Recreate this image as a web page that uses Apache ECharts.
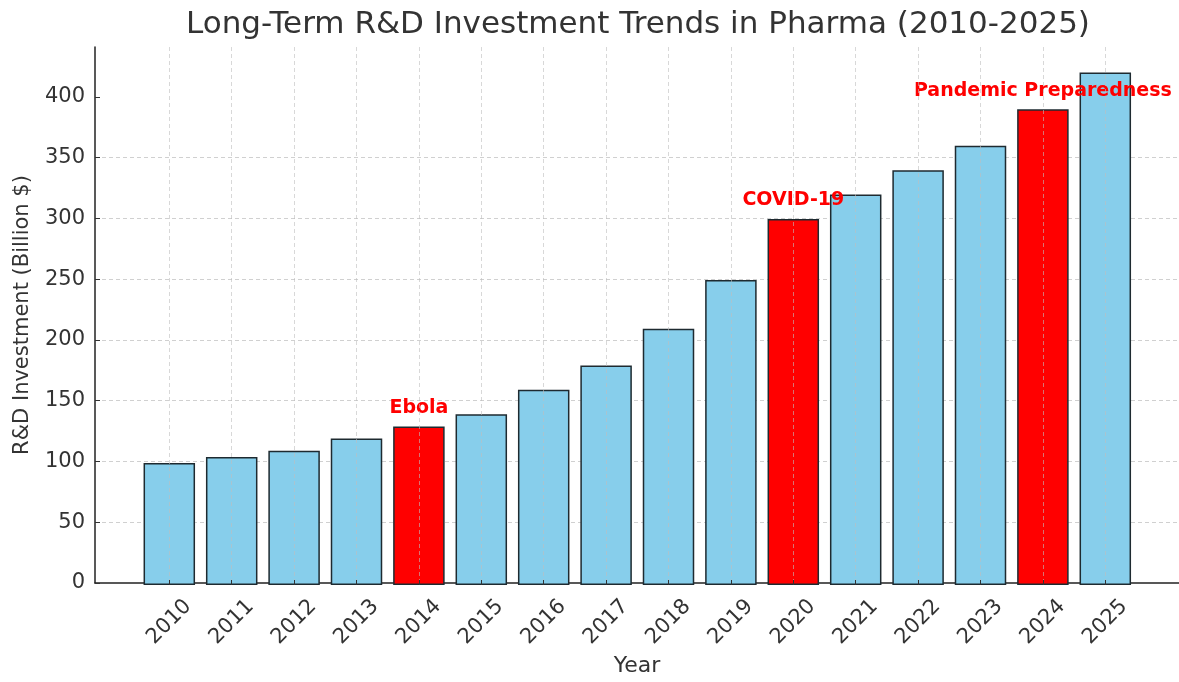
<!DOCTYPE html>
<html>
<head>
<meta charset="utf-8">
<script src="https://cdn.jsdelivr.net/npm/echarts@6/dist/echarts.min.js"></script>
<style>html,body{margin:0;padding:0;background:#fff}#c{width:1179px;height:682px}</style>
</head>
<body>
<div id="c"></div>
<script>
const years = ['2010','2011','2012','2013','2014','2015','2016','2017','2018','2019','2020','2021','2022','2023','2024','2025'];
const investment = [100,105,110,120,130,140,160,180,210,250,300,320,340,360,390,420];
const eventYears = ['2014','2020','2024'];
const eventLabels = ['Ebola','COVID-19','Pandemic Preparedness'];
const yTicks = [0,50,100,150,200,250,300,350,400];

const FONT = 'DejaVu Sans';
const chart = echarts.init(document.getElementById('c'), null, {renderer:'canvas'});
const yMax = 441;

const barData = investment.map((v, i) => {
  const ev = eventYears.indexOf(years[i]);
  return {
    value: v,
    itemStyle: { color: ev >= 0 ? '#ff0000' : '#87ceeb' },
    label: ev >= 0 ? { show: true, formatter: eventLabels[ev] } : { show: false }
  };
});

chart.setOption({
  animation: false,
  title: {
    text: 'Long-Term R&D Investment Trends in Pharma (2010-2025)',
    left: 633, top: 4, textAlign: 'center',
    textStyle: { fontFamily: FONT, fontSize: 31, fontWeight: 'normal', color: '#333' }
  },
  grid: [
    { left: 95, right: 0, top: 47, bottom: 97 },
    { left: 138.1, right: 42.5, top: 47, bottom: 97 }
  ],
  xAxis: [
    {
      type: 'value', gridIndex: 0, min: -1.19, max: 16.19,
      axisLine: { show: true, onZero: false, lineStyle: { color: '#222', width: 1.5 } },
      axisTick: { show: false }, axisLabel: { show: false }, splitLine: { show: false },
      name: 'Year', nameLocation: 'middle', nameGap: 72,
      nameTextStyle: { fontFamily: FONT, fontSize: 22, color: '#333' }
    },
    {
      type: 'category', gridIndex: 1, data: years, z: 5,
      axisLine: { show: false },
      axisTick: { show: true, inside: true, alignWithLabel: true, length: 5, lineStyle: { color: '#333' } },
      axisLabel: {
        rotate: 45, interval: 0, margin: 37, align: 'center', verticalAlign: 'middle',
        fontFamily: FONT, fontSize: 21, color: '#333'
      },
      splitLine: { show: true, alignWithLabel: true, lineStyle: { type: [4, 3], color: 'rgba(190,190,190,0.6)', width: 1 } }
    }
  ],
  yAxis: [
    {
      type: 'value', gridIndex: 0, min: 0, max: yMax,
      axisLine: { show: true, onZero: false, lineStyle: { color: '#222', width: 1.5 } },
      axisTick: { show: true, inside: true, length: 5, customValues: yTicks, lineStyle: { color: '#333' } },
      axisLabel: { customValues: yTicks, fontFamily: FONT, fontSize: 21, color: '#333', margin: 10 },
      splitLine: { show: true, showMinLine: false, showMaxLine: false, lineStyle: { type: [4, 3], color: '#d0d0d0', width: 1 } },
      interval: 50,
      name: 'R&D Investment (Billion $)', nameLocation: 'middle', nameGap: 62,
      nameTextStyle: { fontFamily: FONT, fontSize: 21, color: '#333' }
    },
    {
      type: 'value', gridIndex: 1, min: 0, max: yMax, show: false,
      splitLine: { show: false }
    }
  ],
  series: [
    {
      type: 'bar', xAxisIndex: 1, yAxisIndex: 1, data: barData,
      barWidth: 51.5,
      itemStyle: { borderColor: '#1e2a30', borderWidth: 1.5 },
      label: {
        position: 'top', distance: 9,
        fontFamily: FONT, fontSize: 19, fontWeight: 'bold', color: '#ff0000'
      }
    }
  ]
});
</script>
</body>
</html>
